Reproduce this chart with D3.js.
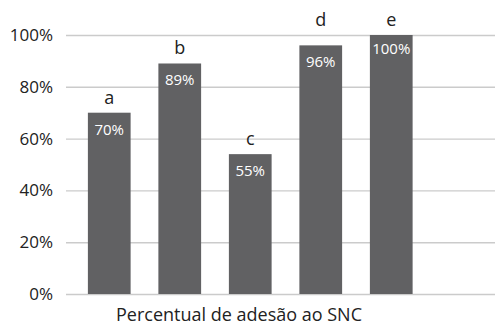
<!DOCTYPE html>
<html>
<head>
<meta charset="utf-8">
<script src="https://cdn.jsdelivr.net/npm/d3@7"></script>
<style>
  body { margin: 0; background: #fff; }
  svg { display: block; font-family: "Open Sans", sans-serif; }
</style>
</head>
<body>
<div id="chart"></div>
<script>
let w = 495;
let h = 326;

// data
let categories = ["a", "b", "c", "d", "e"];
let values = [70, 89, 54, 96, 100];
let valueLabels = ["70%", "89%", "55%", "96%", "100%"];
let yTicks = [0, 20, 40, 60, 80, 100];
let xTitle = "Percentual de adesão ao SNC";

let gridLeft = 66;
let gridRight = 495;

let svg = d3.select("#chart")
  .append("svg")
    .attr("width", w)
    .attr("height", h);

let yScale = d3.scaleLinear().domain([0, 100]).range([294, 35]);

let xScale = d3.scaleBand()
  .domain(categories)
  .range([74, 426.5])
  .paddingInner(0.394)
  .paddingOuter(0.197);

// y axis + gridlines
let yAxis = d3.axisLeft(yScale)
  .tickValues(yTicks)
  .tickFormat(d => d + "%")
  .tickSize(-(gridRight - gridLeft))
  .tickPadding(13);

let yAxisGroup = svg.append("g")
  .attr("transform", "translate(" + gridLeft + ",0)")
  .call(yAxis);

yAxisGroup.select(".domain").remove();
yAxisGroup.selectAll(".tick line")
  .attr("stroke", "#cbcbcb")
  .attr("stroke-width", 1.4);
yAxisGroup.selectAll(".tick text")
  .attr("fill", "#222")
  .style("font-size", "17px")
  .style("font-family", "'Open Sans', sans-serif");

// bars
let bars = svg.append("g");
bars.selectAll("rect")
  .data(values)
  .enter()
  .append("rect")
    .attr("x", (d, i) => xScale(categories[i]))
    .attr("y", d => yScale(d))
    .attr("width", xScale.bandwidth())
    .attr("height", d => yScale(0) - yScale(d))
    .attr("fill", "#616163");

// values inside the bars
bars.selectAll(".valueLabel")
  .data(values)
  .enter()
  .append("text")
    .attr("class", "valueLabel")
    .attr("x", (d, i) => xScale(categories[i]) + xScale.bandwidth() / 2)
    .attr("y", d => yScale(d) + (d >= 100 ? 19 : 22))
    .attr("text-anchor", "middle")
    .attr("fill", "#fff")
    .style("font-size", "15px")
    .text((d, i) => valueLabels[i]);

// letters above the bars (the tallest ones share a row)
bars.selectAll(".catLabel")
  .data(values)
  .enter()
  .append("text")
    .attr("class", "catLabel")
    .attr("x", (d, i) => xScale(categories[i]) + xScale.bandwidth() / 2)
    .attr("y", d => (d >= 90 ? yScale(100) : yScale(d)) - 9)
    .attr("text-anchor", "middle")
    .attr("fill", "#222")
    .style("font-size", "18px")
    .text((d, i) => categories[i]);

// x title
svg.append("text")
  .attr("x", 239)
  .attr("y", 321)
  .attr("text-anchor", "middle")
  .attr("fill", "#222")
  .style("font-size", "18px")
  .text(xTitle);
</script>
</body>
</html>
